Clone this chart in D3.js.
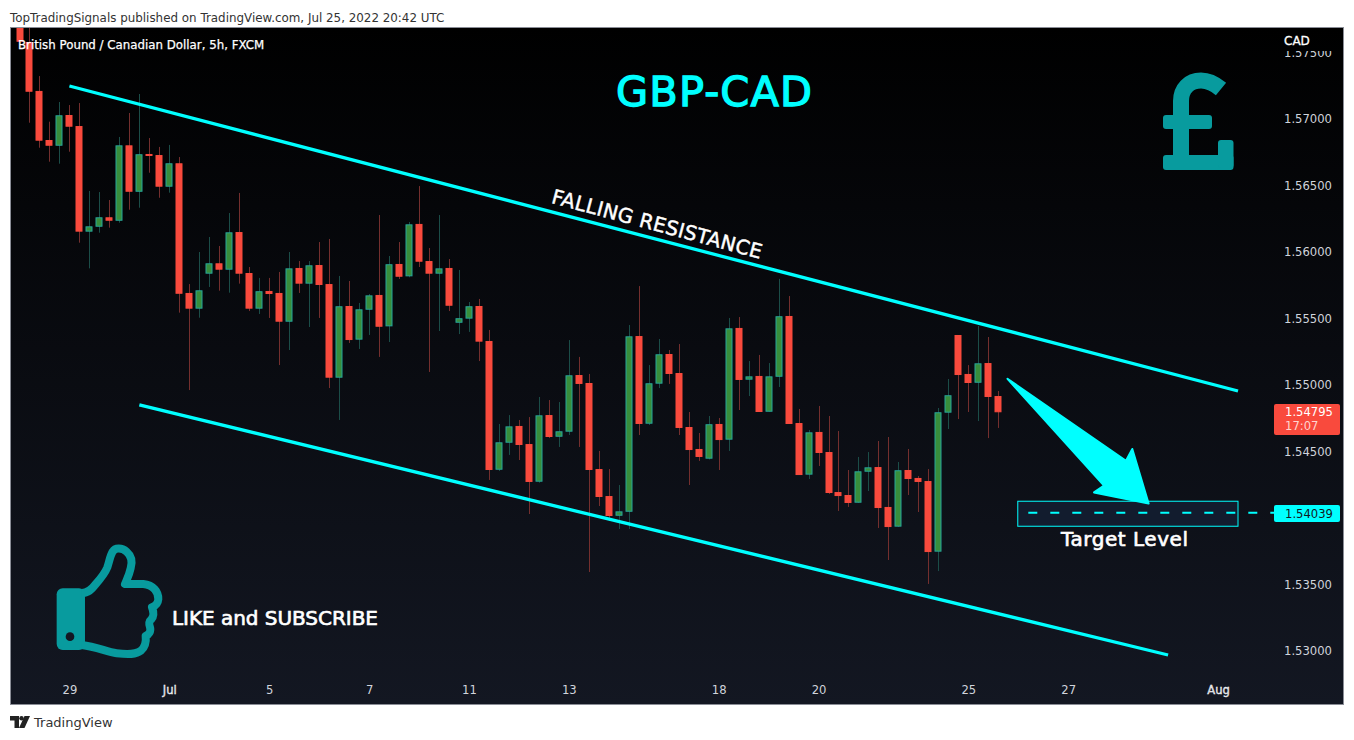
<!DOCTYPE html>
<html><head><meta charset="utf-8">
<script src="https://cdn.jsdelivr.net/npm/d3@7/dist/d3.min.js"></script>
<style>html,body{margin:0;padding:0;background:#fff}svg{display:block}text{font-family:"DejaVu Sans",sans-serif}</style>
</head><body><div id="chart"></div>
<script>
const opens=[1.57797,1.57579,1.57211,1.56842,1.56799,1.57030,1.56947,1.56153,1.56190,1.56261,1.56235,1.56802,1.56453,1.56737,1.56729,1.56491,1.56667,1.55692,1.55574,1.55837,1.55915,1.55867,1.56150,1.55842,1.55574,1.55707,1.55692,1.55476,1.55880,1.55762,1.55902,1.55759,1.55055,1.55594,1.55341,1.55566,1.55677,1.55441,1.55910,1.55817,1.56211,1.55932,1.55837,1.55880,1.55468,1.55499,1.55594,1.55331,1.54363,1.54566,1.54692,1.54556,1.54273,1.54774,1.54611,1.54649,1.55075,1.55015,1.54368,1.54165,1.54017,1.54047,1.55368,1.54709,1.55010,1.55233,1.55090,1.54684,1.54519,1.54446,1.54707,1.54589,1.55429,1.55040,1.55068,1.54799,1.55062,1.55519,1.54714,1.54326,1.54647,1.54496,1.54195,1.54173,1.54115,1.54348,1.54383,1.54083,1.53935,1.54361,1.54301,1.54278,1.53747,1.54792,1.55376,1.55083,1.55017,1.55165,1.54917];
const highs=[1.57857,1.57744,1.57323,1.56980,1.57128,1.57105,1.57120,1.56459,1.56451,1.56391,1.56865,1.57045,1.57188,1.56857,1.56790,1.56805,1.56714,1.55759,1.56000,1.56113,1.56045,1.56293,1.56444,1.55887,1.55805,1.55805,1.55850,1.56000,1.55932,1.55932,1.56075,1.56098,1.55820,1.55782,1.55617,1.55684,1.56278,1.55970,1.56075,1.56226,1.56496,1.56030,1.56278,1.55947,1.55865,1.55624,1.55647,1.55414,1.54707,1.54774,1.54737,1.54759,1.54910,1.54887,1.54872,1.55338,1.55211,1.55083,1.54504,1.54368,1.54248,1.55451,1.55744,1.55150,1.55346,1.55263,1.55308,1.54797,1.54639,1.54767,1.54752,1.55504,1.55511,1.55180,1.55226,1.55165,1.55798,1.55669,1.54820,1.54662,1.54842,1.54767,1.54654,1.54361,1.54459,1.54496,1.54579,1.54609,1.54421,1.54519,1.54316,1.54368,1.54827,1.55045,1.55376,1.55150,1.55444,1.55361,1.54955];
const lows=[1.57581,1.56972,1.56784,1.56679,1.56664,1.56754,1.56070,1.55877,1.56145,1.56183,1.56220,1.56318,1.56333,1.56596,1.56408,1.56446,1.55544,1.54962,1.55506,1.55737,1.55709,1.55694,1.55762,1.55556,1.55534,1.55504,1.55150,1.55263,1.55692,1.55436,1.55504,1.54977,1.54737,1.55316,1.55271,1.55376,1.55211,1.55323,1.55797,1.55810,1.55887,1.55098,1.55406,1.55556,1.55383,1.55399,1.55180,1.54286,1.54353,1.54474,1.54436,1.54030,1.54265,1.54601,1.54534,1.54624,1.54534,1.53594,1.54090,1.53977,1.53917,1.53917,1.54624,1.54699,1.54977,1.55008,1.54624,1.54248,1.54429,1.54440,1.54361,1.54504,1.54812,1.54917,1.54797,1.54799,1.54985,1.54707,1.54323,1.54293,1.54391,1.54180,1.54053,1.54083,1.54113,1.54203,1.53925,1.53684,1.53932,1.54173,1.54045,1.53504,1.53601,1.54669,1.54744,1.54797,1.54729,1.54601,1.54677];
const closes=[1.57581,1.57205,1.56837,1.56799,1.57028,1.56942,1.56153,1.56193,1.56261,1.56235,1.56802,1.56453,1.56735,1.56724,1.56491,1.56667,1.55686,1.55574,1.55712,1.55915,1.55867,1.56148,1.55837,1.55574,1.55705,1.55684,1.55476,1.55877,1.55762,1.55900,1.55752,1.55055,1.55592,1.55338,1.55569,1.55674,1.55438,1.55908,1.55814,1.56208,1.55927,1.55837,1.55877,1.55596,1.55502,1.55592,1.55326,1.54361,1.54569,1.54689,1.54549,1.54271,1.54772,1.54609,1.54652,1.55073,1.55008,1.54361,1.54158,1.54015,1.54050,1.55366,1.54707,1.55013,1.55231,1.55083,1.54677,1.54511,1.54459,1.54705,1.54586,1.55426,1.55038,1.55065,1.54797,1.55065,1.55517,1.54707,1.54323,1.54644,1.54489,1.54188,1.54165,1.54113,1.54351,1.54381,1.54075,1.53932,1.54359,1.54293,1.54271,1.53744,1.54795,1.54923,1.55075,1.55015,1.55163,1.54910,1.54795];
const priceTicks=[1.53,1.535,1.545,1.55,1.555,1.56,1.565,1.57,1.575];
const timeIndex=[5,15,25,35,45,55,70,80,95,105,120];
const timeLabels=["29","Jul","5","7","11","13","18","20","25","27","Aug"];
const resistance=[[5,1.57248],[122,1.54955]];
const support=[[12,1.54850],[115,1.52970]];
const targetPrice=1.54039, lastPrice=1.54795;
const targetBand=[[99.95,1.54126],[122,1.53938]];

const W=1354,H=740;
const x=d3.scaleLinear().domain([0,98]).range([19.5,998.3]);
const y=d3.scaleLinear().domain([1.55,1.57]).range([385,119]);
const CY="#00ffff",TEAL="#089b9e";
const svg=d3.select("#chart").append("svg").attr("width",W).attr("height",H);
const defs=svg.append("defs");
const g=defs.append("linearGradient").attr("id","bg").attr("x1",0).attr("x2",0).attr("y1",0).attr("y2",1);
g.append("stop").attr("offset","0%").attr("stop-color","#000000");
g.append("stop").attr("offset","100%").attr("stop-color","#131722");
defs.append("clipPath").attr("id","pane").append("rect").attr("x",11).attr("y",28).attr("width",1332).attr("height",676);
defs.append("clipPath").attr("id","pscale").append("rect").attr("x",1270).attr("y",51).attr("width",80).attr("height",640);

svg.append("text").attr("x",10).attr("y",21.5).attr("font-size",11.9).attr("fill","#333").text("TopTradingSignals published on TradingView.com, Jul 25, 2022 20:42 UTC");
svg.append("rect").attr("x",10.5).attr("y",27.5).attr("width",1333).attr("height",677).attr("fill","url(#bg)").attr("stroke","#8a8d96").attr("stroke-width",1);

const marks=svg.append("g").attr("clip-path","url(#pane)");
const idx=d3.range(opens.length);
const up=i=>closes[i]>=opens[i];
marks.append("g").selectAll("line").data(idx).join("line")
 .attr("x1",i=>Math.round(x(i))+0.5).attr("x2",i=>Math.round(x(i))+0.5)
 .attr("y1",i=>y(highs[i])).attr("y2",i=>y(lows[i]))
 .attr("stroke",i=>up(i)?"#1b4d48":"#742f2e").attr("stroke-width",1);
marks.append("g").selectAll("rect").data(idx).join("rect")
 .attr("x",i=>Math.round(x(i))-3).attr("width",6)
 .attr("y",i=>y(Math.max(opens[i],closes[i]))+0.5)
 .attr("height",i=>Math.max(1,Math.abs(y(opens[i])-y(closes[i]))-1))
 .attr("fill",i=>up(i)?"#388e3c":"#f94a3d")
 .attr("stroke",i=>up(i)?"#26a69a":"#f94a3d").attr("stroke-width",1);

// channel lines
const ln=d3.line().x(d=>x(d[0])).y(d=>y(d[1]));
[resistance,support].forEach(s=>marks.append("path").attr("d",ln(s)).attr("stroke",CY).attr("stroke-width",3.3).attr("fill","none"));

// target band
marks.append("rect").attr("x",x(targetBand[0][0])).attr("y",y(targetBand[0][1])).attr("width",x(targetBand[1][0])-x(targetBand[0][0])).attr("height",y(targetBand[1][1])-y(targetBand[0][1]))
 .attr("fill","#121c2e").attr("stroke",CY).attr("stroke-width",1);
marks.append("line").attr("x1",1028.3).attr("x2",1275).attr("y1",y(targetPrice)).attr("y2",y(targetPrice)).attr("stroke",CY).attr("stroke-width",2).attr("stroke-dasharray","9 13");

// arrow
marks.append("path").attr("d","M1007.5 378.8L1126 460.7L1132.3 449L1148.6 503.6L1094 492.4L1104 485.7Z").attr("fill",CY).attr("stroke",CY).attr("stroke-width",2).attr("stroke-linejoin","round");

// axes
const ya=svg.append("g").attr("clip-path","url(#pscale)").append("g").attr("transform","translate(1277,0)")
 .call(d3.axisRight(y).tickValues(priceTicks).tickSize(0).tickPadding(7).tickFormat(d3.format(".5f")));
ya.select(".domain").remove();
ya.selectAll("text").attr("font-size",11.6).attr("fill","#d1d4dc").attr("font-family",'"DejaVu Sans",sans-serif');
const xa=svg.append("g").attr("transform","translate(0,682)")
 .call(d3.axisBottom(x).tickValues(timeIndex).tickSize(0).tickPadding(4).tickFormat((d,i)=>timeLabels[i]));
xa.select(".domain").remove();
xa.selectAll("text").attr("font-size",11.6).attr("fill","#d1d4dc").attr("font-family",'"DejaVu Sans",sans-serif')
 .attr("stroke",(d,i)=>/[A-Z]/.test(timeLabels[i])?"#fff":"none").attr("stroke-width",0.35);

// price labels
svg.append("rect").attr("x",1274).attr("y",404).attr("width",66).attr("height",31).attr("rx",2).attr("fill","#f94a3d");
svg.append("text").attr("x",1285).attr("y",416).attr("font-size",11.6).attr("fill","#fff").text(d3.format(".5f")(lastPrice));
svg.append("text").attr("x",1285).attr("y",430).attr("font-size",11.6).attr("fill","#ffd5d0").text("17:07");
svg.append("rect").attr("x",1274).attr("y",505).attr("width",66).attr("height",17).attr("rx",2).attr("fill",CY);
svg.append("text").attr("x",1285).attr("y",517.5).attr("font-size",11.6).attr("fill","#131722").text(d3.format(".5f")(targetPrice));
svg.append("text").attr("x",1284).attr("y",45).attr("font-size",12).attr("fill","#fff").attr("stroke","#fff").attr("stroke-width",0.3).text("CAD");

// annotation text
svg.append("text").attr("x",18).attr("y",48.5).attr("font-size",11.8).attr("fill","#fff").attr("stroke","#fff").attr("stroke-width",0.25).text("British Pound / Canadian Dollar, 5h, FXCM");
svg.append("text").attr("x",616).attr("y",106).attr("font-size",41.5).attr("textLength",196).attr("lengthAdjust","spacing").attr("fill",CY).attr("stroke",CY).attr("stroke-width",1.3).text("GBP-CAD");
svg.append("text").attr("transform","translate(657,224) rotate(15)").attr("x",-108.5).attr("dy","0.35em").attr("font-size",20).attr("textLength",217).attr("lengthAdjust","spacing").attr("fill","#fff").attr("stroke","#fff").attr("stroke-width",0.45).text("FALLING RESISTANCE");
svg.append("text").attr("x",1061).attr("y",546).attr("font-size",20).attr("textLength",127).attr("lengthAdjust","spacing").attr("fill","#fff").attr("stroke","#fff").attr("stroke-width",0.65).text("Target Level");
svg.append("text").attr("x",172).attr("y",625).attr("font-size",20).attr("textLength",206).attr("lengthAdjust","spacing").attr("fill","#fff").attr("stroke","#fff").attr("stroke-width",0.65).text("LIKE and SUBSCRIBE");

// pound icon
const pound=svg.append("g");
pound.append("path").attr("d","M1221 89C1215 84 1208 80.5 1201 80.5C1189 80.5 1181 89 1181 101L1181 160").attr("fill","none").attr("stroke",TEAL).attr("stroke-width",16);
pound.append("rect").attr("x",1163).attr("y",115).attr("width",49).attr("height",14).attr("rx",3).attr("fill",TEAL);
pound.append("rect").attr("x",1163).attr("y",155).attr("width",70.5).attr("height",15).attr("rx",3).attr("fill",TEAL);
pound.append("rect").attr("x",1218).attr("y",140).attr("width",15.5).attr("height",28).attr("rx",3).attr("fill",TEAL);

// thumb icon
const th=svg.append("g").attr("transform","translate(0,530) scale(0.3333)");
th.append("rect").attr("x",170).attr("y",175).attr("width",85).attr("height",185).attr("rx",18).attr("fill",TEAL);
th.append("circle").attr("cx",210).attr("cy",320).attr("r",13).attr("fill","#131722");
th.append("path").attr("d","M245 189C265 189 275 178 285 165C300 148 315 130 322 112C328 95 330 78 338 65C345 53 365 52 380 65C395 78 398 95 392 115C388 135 380 150 375 162L430 162C460 165 476 185 475 208C474 222 466 228 456 232C461 245 463 258 454 268C447 274 446 280 450 292C454 304 446 314 437 318C439 335 434 352 423 362C408 374 385 374 350 370C320 366 290 350 245 345").attr("fill","none").attr("stroke",TEAL).attr("stroke-width",24).attr("stroke-linejoin","round");

// footer logo
const lg=svg.append("g").attr("transform","translate(10,716)").attr("fill","#222");
lg.append("path").attr("d","M0 0H9V12H4.5V4.5H0Z");
lg.append("circle").attr("cx",11.5).attr("cy",2.2).attr("r",2.2);
lg.append("path").attr("d","M14.5 0H20L14.5 12H9Z");
svg.append("text").attr("x",34).attr("y",727).attr("font-size",13).attr("fill","#333").text("TradingView");
</script></body></html>
